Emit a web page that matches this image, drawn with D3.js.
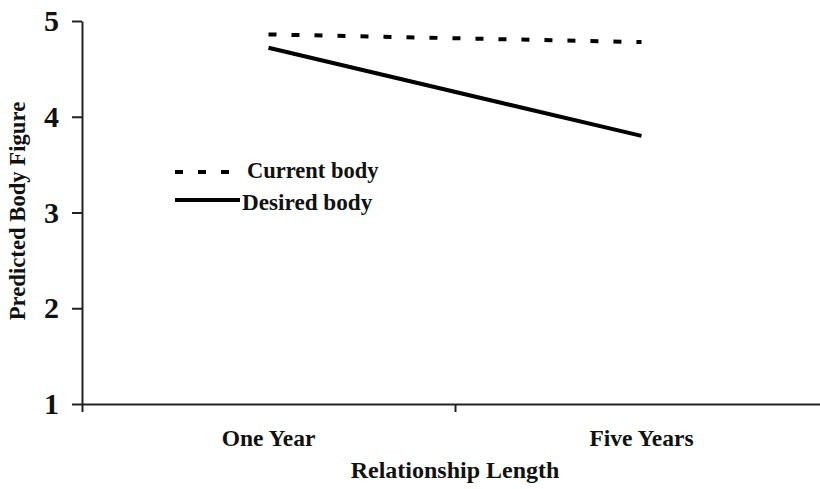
<!DOCTYPE html>
<html>
<head>
<meta charset="utf-8">
<script src="https://cdn.jsdelivr.net/npm/d3@7"></script>
<style>
    body { margin: 0; background: #fff; }
    svg text { font-family: "Liberation Serif", "Times New Roman", serif; font-weight: bold; fill: #111; }
</style>
</head>
<body>
<script>
// data
var categories = ["One Year", "Five Years"];
var seriesNames = ["Current body", "Desired body"];
var currentBody = [4.86, 4.78];
var desiredBody = [4.72, 3.80];
var yTicks = [1, 2, 3, 4, 5];

var width = 820,
    height = 489;

var svg = d3.select('body').append('svg')
    .attr('width', width)
    .attr('height', height);

// Scale for x-axis (categories)
var xScale = d3.scaleBand().domain(categories).range([82, 828]);

// Edges of the bands, where the ticks sit
var xEdge = d3.scaleLinear().domain([0, categories.length]).range([82, 828]);

// Scale for y-axis
var yScale = d3.scaleLinear().domain([1, 5]).range([404, 21]);

// y axis
var yAxis = svg.append('g')
    .attr('transform', 'translate(82,0)')
    .call(d3.axisLeft(yScale).tickValues(yTicks).tickFormat(d3.format('d'))
        .tickSize(10).tickPadding(13).tickSizeOuter(0));
yAxis.selectAll('text').style('font-size', '30px');

// x axis ticks at band edges
var xAxis = svg.append('g')
    .attr('transform', 'translate(0,404)')
    .call(d3.axisBottom(xEdge).tickValues([0, 1]).tickFormat('')
        .tickSize(8).tickSizeOuter(0));

// x category labels
var xLabels = svg.append('g')
    .attr('transform', 'translate(0,404)')
    .call(d3.axisBottom(xScale).tickSize(0).tickPadding(25));
xLabels.select('.domain').remove();
xLabels.selectAll('text').style('font-size', '23.5px');

svg.selectAll('.domain, .tick line').attr('stroke', '#222').attr('stroke-width', 2);

// axis titles
svg.append('text')
    .attr('x', 455)
    .attr('y', 478)
    .attr('text-anchor', 'middle')
    .style('font-size', '24px')
    .text('Relationship Length');

svg.append('text')
    .attr('transform', 'translate(25,211) rotate(-90)')
    .attr('text-anchor', 'middle')
    .style('font-size', '22.7px')
    .text('Predicted Body Figure');

// lines
var line = d3.line()
    .x(function (d, i) { return xScale(categories[i]) + xScale.bandwidth() / 2; })
    .y(function (d) { return yScale(d); });

var series = [
    { name: seriesNames[0], values: currentBody, dash: '8,15' },
    { name: seriesNames[1], values: desiredBody, dash: null }
];

svg.selectAll('.lines')
    .data(series)
    .enter().append('path')
    .attr('class', 'lines')
    .attr('d', function (d) { return line(d.values); })
    .style('fill', 'none')
    .style('stroke', '#000')
    .style('stroke-width', 4)
    .style('stroke-dasharray', function (d) { return d.dash; });

// legend
var legend = svg.selectAll('.legend')
    .data(series)
    .enter().append('g')
    .attr('class', 'legend')
    .attr('transform', function (d, i) { return 'translate(0,' + (i == 0 ? 172 : 200) + ')'; });

legend.append('line')
    .attr('x1', 175)
    .attr('x2', function (d) { return d.dash ? 230 : 240; })
    .attr('y1', 0)
    .attr('y2', 0)
    .style('stroke', '#000')
    .style('stroke-width', 4)
    .style('stroke-dasharray', function (d) { return d.dash; });

legend.append('text')
    .attr('x', function (d) { return d.dash ? 247 : 242; })
    .attr('y', function (d) { return d.dash ? 6 : 10; })
    .style('font-size', function (d) { return d.dash ? '22.5px' : '23.2px'; })
    .text(function (d) { return d.name; });
</script>
</body>
</html>
